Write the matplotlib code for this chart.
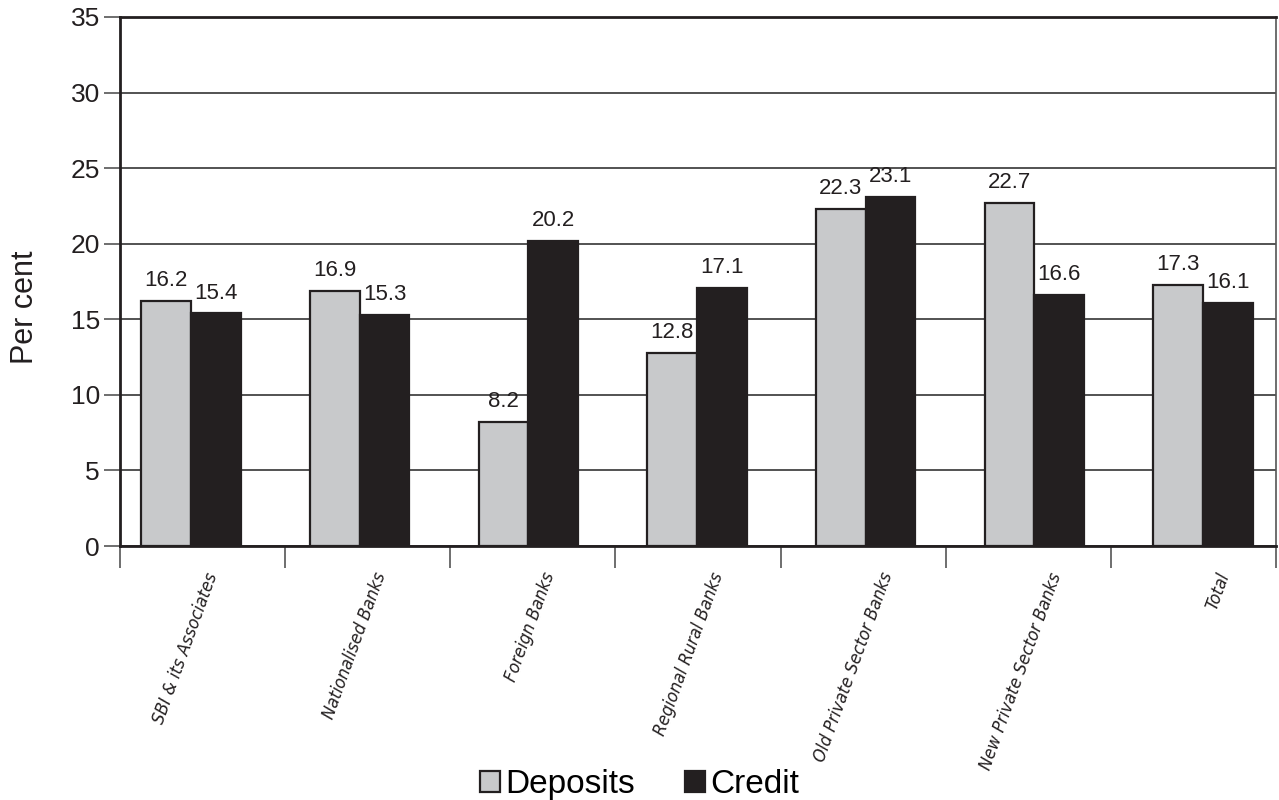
import numpy as np
from matplotlib import pyplot as plt

# bank groups and growth rates (per cent)
categories = ['SBI & its Associates', 'Nationalised Banks', 'Foreign Banks',
              'Regional Rural Banks', 'Old Private Sector Banks',
              'New Private Sector Banks', 'Total']
deposits = [16.2, 16.9, 8.2, 12.8, 22.3, 22.7, 17.3]
credit = [15.4, 15.3, 20.2, 17.1, 23.1, 16.6, 16.1]
y_ticks = [0, 5, 10, 15, 20, 25, 30, 35]

sans = ['Liberation Sans', 'DejaVu Sans']
plt.rcParams['font.family'] = sans

fig = plt.figure(figsize=(12.79, 8.0), dpi=100)
ax = fig.add_axes([0.0938, 0.3175, 0.9039, 0.6613])

x = np.arange(len(categories))
w = 0.295
b1 = ax.bar(x - w / 2, deposits, w, color='#c8c9cb', edgecolor='#231f20',
            linewidth=1.6, label='Deposits', zorder=3)
b2 = ax.bar(x + w / 2, credit, w, color='#231f20', edgecolor='#231f20',
            linewidth=1.6, label='Credit', zorder=3)

# value labels above the bars
for bars, vals in ((b1, deposits), (b2, credit)):
    for rect, v in zip(bars, vals):
        ax.annotate(f'{v:.1f}', (rect.get_x() + rect.get_width() / 2, v),
                    textcoords='offset points', xytext=(0, 7), ha='center',
                    va='bottom', fontsize=16, color='#231f20')

ax.set_xlim(-0.421, 6.433)
ax.set_ylim(0, 35)
ax.set_yticks(y_ticks)
ax.tick_params(axis='y', length=11.5, width=1.2, color='#555555', labelsize=19,
               pad=3, labelcolor='#231f20')
ax.yaxis.grid(True, color='#444444', linewidth=1.3, zorder=0)
ax.set_ylabel('Per cent', fontsize=22, color='#231f20')
ax.yaxis.set_label_coords(-0.069, 0.452)

# boundary ticks between groups, labels near group centres
x0, x1 = ax.get_xlim()
ax.set_xticks(np.linspace(x0, x1, len(categories) + 1))
ax.set_xticklabels([])
ax.tick_params(axis='x', length=16, width=1.2, color='#555555')
for i, name in enumerate(categories):
    ax.text(i + 0.08, -0.045, name, transform=ax.get_xaxis_transform(),
            rotation=70, rotation_mode='anchor', ha='right', va='top',
            fontsize=13, fontstyle='italic', fontstretch='condensed',
            family='DejaVu Sans', color='#231f20')

for side in ('left', 'top', 'bottom'):
    ax.spines[side].set_linewidth(2)
    ax.spines[side].set_color('#231f20')
ax.spines['right'].set_linewidth(1.2)
ax.spines['right'].set_color('#555555')

fig.legend(handles=[b1, b2], loc='lower center', bbox_to_anchor=(0.5, -0.038),
           ncol=2, frameon=False, fontsize=24, handlelength=0.6,
           handleheight=0.6, handletextpad=0.15, columnspacing=1.5)

fig.savefig('out.png', dpi=100)
